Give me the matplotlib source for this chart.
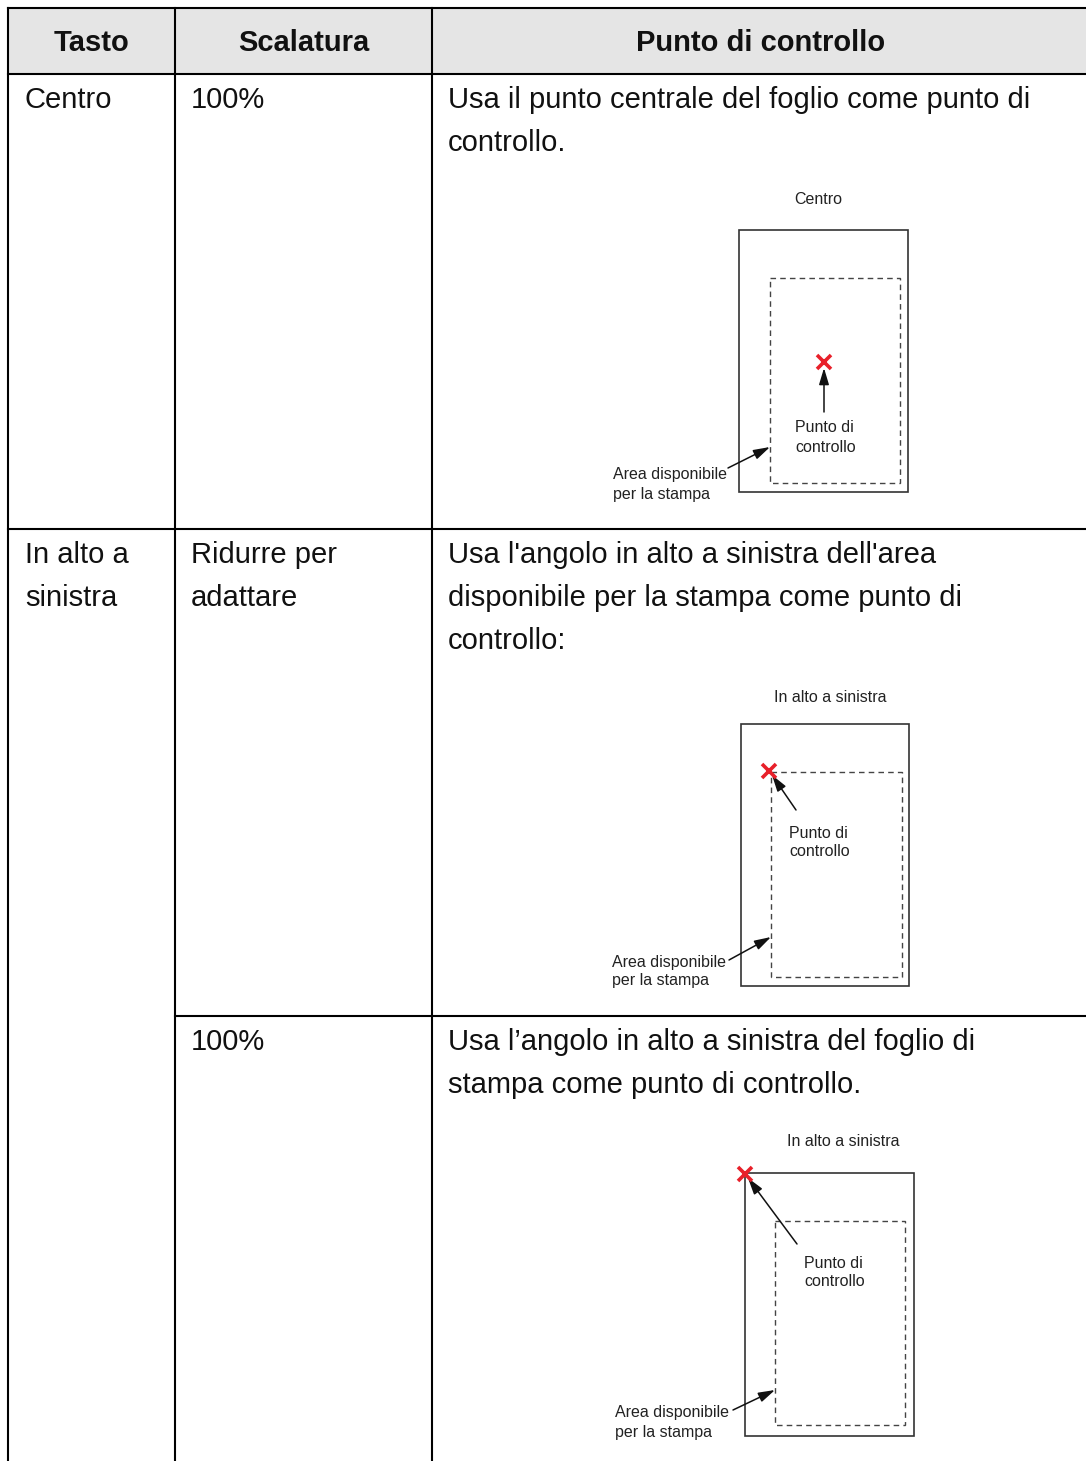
import matplotlib
matplotlib.use("Agg")
import matplotlib.pyplot as plt
from matplotlib.patches import Rectangle, FancyArrowPatch

plt.rcParams['font.family'] = ['Liberation Sans', 'DejaVu Sans']

# ---------------- data (texts) ----------------
headers = ["Tasto", "Scalatura", "Punto di controllo"]
col_tasto = [["Centro"], ["In alto a", "sinistra"], []]
col_scala = [["100%"], ["Ridurre per", "adattare"], ["100%"]]
col_desc = [
    ["Usa il punto centrale del foglio come punto di", "controllo."],
    ["Usa l'angolo in alto a sinistra dell'area",
     "disponibile per la stampa come punto di", "controllo:"],
    ["Usa l\u2019angolo in alto a sinistra del foglio di",
     "stampa come punto di controllo."],
]
diag_titles = ["Centro", "In alto a sinistra", "In alto a sinistra"]
label_point = ["Punto di", "controllo"]
label_area = ["Area disponibile", "per la stampa"]

# ---------------- layout (pixels) ----------------
W, H = 1086, 1461
x_cols = [8, 175, 432]
y_top, y_head = 8, 74
y_rows = [74, 529, 1016]
LW = 1.5
fs_body = 21
fs_small = 11.5
line_h = 43
small_h = 19

fig = plt.figure(figsize=(W / 100, H / 100), dpi=100)
ax = fig.add_axes([0, 0, 1, 1])
ax.set_xlim(0, W)
ax.set_ylim(H, 0)
ax.axis('off')

ax.add_patch(Rectangle((x_cols[0], y_top), W - x_cols[0] + 5, y_head - y_top,
                       facecolor='#e5e5e5', edgecolor='none', zorder=0))
ax.plot([x_cols[0], W + 5], [y_top, y_top], color='black', lw=LW)
ax.plot([x_cols[0], W + 5], [y_head, y_head], color='black', lw=LW)
ax.plot([x_cols[0], W + 5], [y_rows[1], y_rows[1]], color='black', lw=LW)
ax.plot([x_cols[1], W + 5], [y_rows[2], y_rows[2]], color='black', lw=LW)
for xc in x_cols:
    ax.plot([xc, xc], [y_top, H + 5], color='black', lw=LW)

head_centers = [(x_cols[0] + x_cols[1]) / 2, (x_cols[1] + x_cols[2]) / 2, 761]
for t, xc in zip(headers, head_centers):
    ax.text(xc, 51, t, ha='center', va='baseline', fontsize=fs_body,
            fontweight='bold', color='#111111')

for i, ytop in enumerate(y_rows):
    base = ytop + 34
    for j, t in enumerate(col_tasto[i]):
        ax.text(x_cols[0] + 17, base + j * line_h, t, fontsize=fs_body,
                va='baseline', ha='left', color='#111111')
    for j, t in enumerate(col_scala[i]):
        ax.text(x_cols[1] + 16, base + j * line_h, t, fontsize=fs_body,
                va='baseline', ha='left', color='#111111')
    for j, t in enumerate(col_desc[i]):
        ax.text(x_cols[2] + 16, base + j * line_h, t, fontsize=fs_body,
                va='baseline', ha='left', color='#111111')

diagrams = [
    dict(title_xy=(818, 200), outer=(739, 230, 908, 492), inner=(770, 278, 900, 483),
         mark=(824, 362), parrow=((824, 412), (824, 368)), ptext=(795, 428),
         atext=(613, 475), aarrow=((728, 468), (770, 447))),
    dict(title_xy=(830, 697), outer=(741, 724, 909, 986), inner=(771, 772, 902, 977),
         mark=(769, 771), parrow=((796, 810), (772, 775)), ptext=(789, 833),
         atext=(612, 962), aarrow=((729, 960), (771, 937))),
    dict(title_xy=(843, 1141), outer=(745, 1173, 914, 1436), inner=(775, 1221, 905, 1425),
         mark=(745, 1174), parrow=((797, 1244), (748, 1178)), ptext=(804, 1263),
         atext=(615, 1413), aarrow=((733, 1410), (775, 1390))),
]

for title, d in zip(diag_titles, diagrams):
    ax.text(d['title_xy'][0], d['title_xy'][1], title, ha='center', va='center',
            fontsize=fs_small, color='#222222')
    x0, y0, x1, y1 = d['outer']
    ax.add_patch(Rectangle((x0, y0), x1 - x0, y1 - y0, fill=False,
                           edgecolor='#333333', lw=1.2))
    x0, y0, x1, y1 = d['inner']
    ax.add_patch(Rectangle((x0, y0), x1 - x0, y1 - y0, fill=False,
                           edgecolor='#444444', lw=1.0, linestyle=(0, (4, 3))))
    for (s, e) in (d['parrow'], d['aarrow']):
        ax.add_patch(FancyArrowPatch(s, e, arrowstyle='-|>,head_length=1.0,head_width=0.3',
                                     mutation_scale=10, color='#111111', lw=1.1,
                                     shrinkA=0, shrinkB=0, zorder=3))
    ax.plot([d['mark'][0]], [d['mark'][1]], marker='x', color='#e8202a',
            markersize=10, mew=2.6, zorder=4)
    for k, t in enumerate(label_point):
        ax.text(d['ptext'][0], d['ptext'][1] + k * small_h, t, ha='left', va='center',
                fontsize=fs_small, color='#222222')
    for k, t in enumerate(label_area):
        ax.text(d['atext'][0], d['atext'][1] + k * small_h, t, ha='left', va='center',
                fontsize=fs_small, color='#222222')

fig.savefig('out.png', dpi=100)
